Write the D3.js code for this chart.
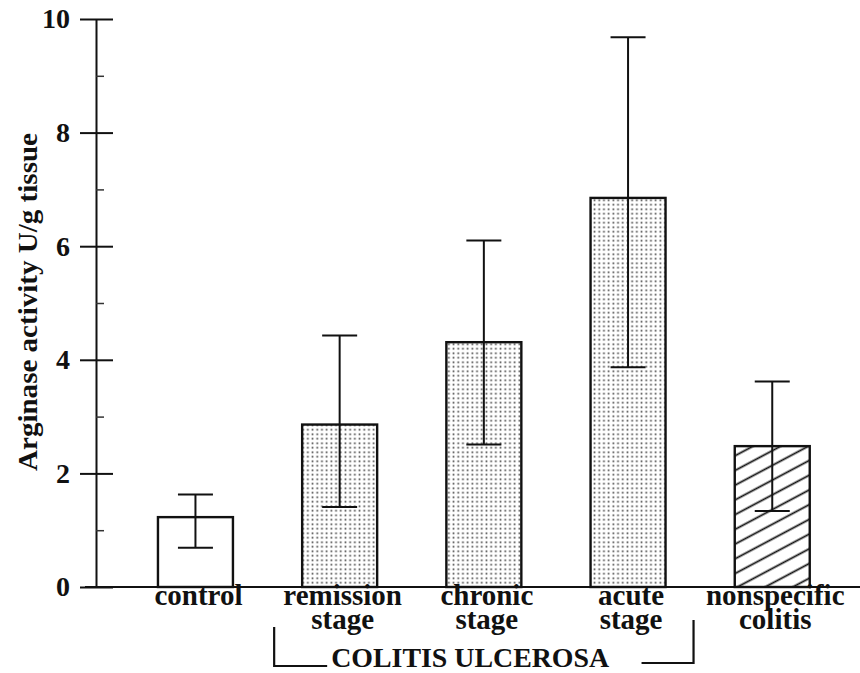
<!DOCTYPE html>
<html>
<head>
<meta charset="utf-8">
<script src="https://cdn.jsdelivr.net/npm/d3@7"></script>
<style>
    body { margin: 0; background: #fff; }
    text { font-family: "Liberation Serif", "DejaVu Serif", serif; fill: #111; }
</style>
</head>
<body>
<div id="chart"></div>
<script>
    var categories = ["control", "remission stage", "chronic stage", "acute stage", "nonspecific colitis"];
    var groups = ["control", "ulcerosa", "ulcerosa", "ulcerosa", "nonspecific"];
    var means = [1.23, 2.86, 4.31, 6.85, 2.48];
    var upper = [1.63, 4.43, 6.10, 9.68, 3.62];
    var lower = [0.69, 1.41, 2.51, 3.87, 1.34];
    var majorTicks = [0, 2, 4, 6, 8, 10];
    var minorTicks = [1, 3, 5, 7, 9];
    var yTitle = "Arginase activity U/g tissue";
    var groupTitle = "COLITIS ULCEROSA";

    var width = 860, height = 673;
    var axisX = 96, baseY = 587, topY = 19;

    var svg = d3.select("#chart").append("svg")
        .attr("width", width)
        .attr("height", height);

    // patterns for the bar fills
    var defs = svg.append("defs");
    var dots = defs.append("pattern")
        .attr("id", "dots")
        .attr("patternUnits", "userSpaceOnUse")
        .attr("width", 4.7)
        .attr("height", 4.5);
    dots.append("rect").attr("width", 4.7).attr("height", 4.5).attr("fill", "#fff");
    dots.append("rect")
        .attr("x", 1.5).attr("y", 1.4)
        .attr("width", 1.7).attr("height", 1.7)
        .attr("fill", "#4a4a4a");

    var hatch = defs.append("pattern")
        .attr("id", "hatch")
        .attr("patternUnits", "userSpaceOnUse")
        .attr("width", 10)
        .attr("height", 13)
        .attr("patternTransform", "rotate(-28)");
    hatch.append("rect").attr("width", 10).attr("height", 13).attr("fill", "#fff");
    hatch.append("line")
        .attr("x1", 0).attr("y1", 6.5)
        .attr("x2", 10).attr("y2", 6.5)
        .style("stroke", "#111")
        .style("stroke-width", 1.8);

    var fillFor = { control: "#fff", ulcerosa: "url(#dots)", nonspecific: "url(#hatch)" };

    var x = d3.scaleBand()
        .domain(categories)
        .range([114.7, 853])
        .paddingInner(0.48)
        .paddingOuter(0.3);

    var y = d3.scaleLinear()
        .domain([0, 10])
        .range([baseY, topY]);

    // x axis line
    svg.append("line")
        .attr("x1", axisX - 11).attr("y1", baseY)
        .attr("x2", width).attr("y2", baseY)
        .style("stroke", "#111")
        .style("stroke-width", 2);

    // bars
    var rows = categories.map(function(c, i) {
        return { cat: c, group: groups[i], mean: means[i], hi: upper[i], lo: lower[i] };
    });

    svg.selectAll(".bar")
        .data(rows)
        .enter().append("rect")
        .attr("class", "bar")
        .attr("x", function(d) { return x(d.cat); })
        .attr("y", function(d) { return y(d.mean); })
        .attr("width", x.bandwidth())
        .attr("height", function(d) { return y(0) - y(d.mean); })
        .style("fill", function(d) { return fillFor[d.group]; })
        .style("stroke", "#111")
        .style("stroke-width", 2.4);

    // error bars
    var capHalf = 17.5;
    var err = svg.selectAll(".err")
        .data(rows)
        .enter().append("g")
        .attr("class", "err")
        .attr("transform", function(d) { return "translate(" + (x(d.cat) + x.bandwidth() / 2) + ",0)"; })
        .style("stroke", "#111")
        .style("stroke-width", 2);
    err.append("line")
        .attr("y1", function(d) { return y(d.lo); })
        .attr("y2", function(d) { return y(d.hi); });
    err.append("line")
        .attr("x1", -capHalf).attr("x2", capHalf)
        .attr("y1", function(d) { return y(d.hi); })
        .attr("y2", function(d) { return y(d.hi); });
    err.append("line")
        .attr("x1", -capHalf).attr("x2", capHalf)
        .attr("y1", function(d) { return y(d.lo); })
        .attr("y2", function(d) { return y(d.lo); });

    // y axis: labelled ticks on the left, tick stubs on the right
    var yLeft = svg.append("g")
        .attr("transform", "translate(" + axisX + ",0)")
        .call(d3.axisLeft(y).tickValues(majorTicks).tickSize(16).tickSizeOuter(0).tickPadding(10));
    yLeft.select(".domain").style("stroke", "#111").style("stroke-width", 2);
    yLeft.selectAll(".tick line").style("stroke", "#111").style("stroke-width", 2);
    yLeft.selectAll(".tick text")
        .style("font-family", "'Liberation Serif', serif")
        .style("font-weight", "bold")
        .style("font-size", "28px")
        .style("fill", "#111");

    var yRight = svg.append("g")
        .attr("transform", "translate(" + axisX + ",0)")
        .call(d3.axisRight(y).tickValues(majorTicks).tickSize(17).tickFormat(""));
    yRight.select(".domain").remove();
    yRight.selectAll(".tick line").style("stroke", "#111").style("stroke-width", 2);

    var yMinor = svg.append("g")
        .attr("transform", "translate(" + axisX + ",0)")
        .call(d3.axisRight(y).tickValues(minorTicks).tickSize(8).tickFormat(""));
    yMinor.select(".domain").remove();
    yMinor.selectAll(".tick line").style("stroke", "#333").style("stroke-width", 1.5);

    // y axis title
    svg.append("text")
        .attr("transform", "translate(37," + 302 + ") rotate(-90)")
        .attr("text-anchor", "middle")
        .attr("textLength", 338)
        .attr("lengthAdjust", "spacingAndGlyphs")
        .style("font-weight", "bold")
        .style("font-size", "28px")
        .text(yTitle);

    // category labels, one word per line
    var labels = svg.selectAll(".cat")
        .data(rows)
        .enter().append("text")
        .attr("class", "cat")
        .attr("text-anchor", "middle")
        .style("font-weight", "bold")
        .style("font-size", "29px");
    labels.selectAll("tspan")
        .data(function(d) {
            return d.cat.split(" ").map(function(w) { return { w: w, cx: x(d.cat) + x.bandwidth() / 2 + 3 }; });
        })
        .enter().append("tspan")
        .attr("x", function(d) { return d.cx; })
        .attr("y", function(d, i) { return 605 + i * 24; })
        .text(function(d) { return d.w; });

    // bracket under the colitis ulcerosa stages
    var ulc = rows.filter(function(d) { return d.group === "ulcerosa"; });
    var bLeft = x(ulc[0].cat) - 28;
    var bRight = x(ulc[ulc.length - 1].cat) + x.bandwidth() + 28;
    var bracket = svg.append("g")
        .style("stroke", "#111")
        .style("stroke-width", 2.2)
        .style("fill", "none");
    bracket.append("path")
        .attr("d", "M" + bLeft + ",627 V666 H" + (bLeft + 53));
    bracket.append("path")
        .attr("d", "M" + (bRight - 52) + ",663 H" + bRight + " V620");

    svg.append("text")
        .attr("x", bLeft + 57)
        .attr("y", 667)
        .attr("textLength", 278)
        .attr("lengthAdjust", "spacingAndGlyphs")
        .style("font-weight", "bold")
        .style("font-size", "28px")
        .text(groupTitle);
</script>
</body>
</html>
